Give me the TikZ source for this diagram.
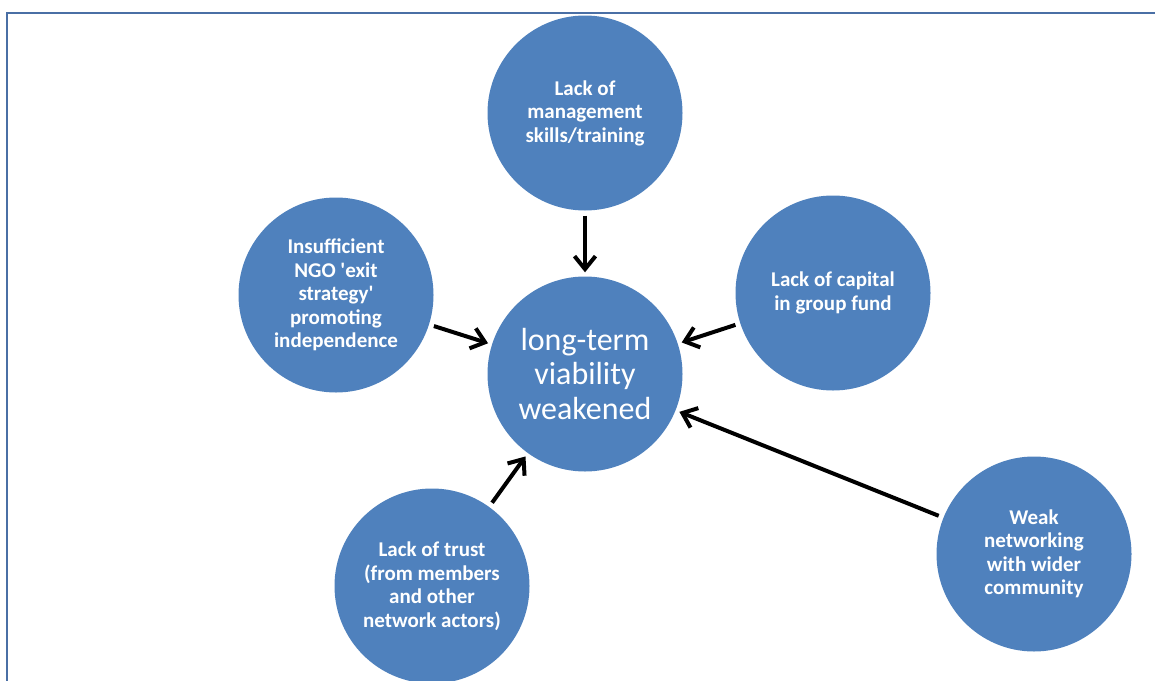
\documentclass[tikz,border=0pt]{standalone}
\usepackage{fontspec}
\setmainfont{Carlito}
\usetikzlibrary{arrows.meta,positioning}

\begin{document}
\begin{tikzpicture}[x=1pt, y=-1pt]

% Define styles
\tikzstyle{factor} = [circle, minimum size=195pt, inner sep=0pt, fill=ringblue, text=white, align=center, font=\bfseries\fontsize{21}{23.5}\selectfont]
\tikzstyle{outcome} = [circle, minimum size=195pt, inner sep=0pt, fill=ringblue, text=white, align=center, font=\fontsize{32}{34.5}\selectfont]
\tikzstyle{arrow} = [line width=4pt, -{Straight Barb[length=13pt,width=21pt]}, shorten <=5pt, shorten >=4pt]
\definecolor{ringblue}{HTML}{4F81BD}
\definecolor{framegray}{HTML}{4A6FA5}

% Page and frame
\useasboundingbox (0,0) rectangle (1155,680);
\clip (0,0) rectangle (1155,680);
\draw [framegray, line width=2pt] (7,700) -- (7,12.5) -- (1170,12.5);

% Centre and causes
\node (viability) [outcome] at (585,374) {long-term\\viability\\weakened};
\node (skills) [factor] at (585,113) {Lack of\\management\\skills/training};
\node (exit) [factor] at (336,295) {Insufficient\\NGO \textquotesingle exit\\strategy\textquotesingle\\promoting\\independence};
\node (capital) [factor] at (833,293) {Lack of capital\\in group fund};
\node (trust) [factor] at (432,586) {Lack of trust\\(from members\\and other\\network actors)};
\node (network) [factor] at (1034,554) {Weak\\networking\\with wider\\community};

% Connect causes to centre
\draw [arrow] (skills) -- (viability);
\draw [arrow] (exit) -- (viability);
\draw [arrow] (capital) -- (viability);
\draw [arrow] (trust) -- (viability);
\draw [arrow] (network) -- (viability);

\end{tikzpicture}
\end{document}
